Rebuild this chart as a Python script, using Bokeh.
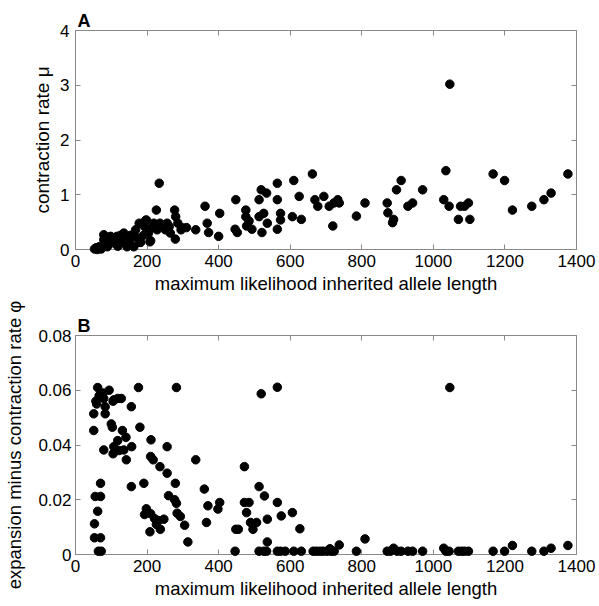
from bokeh.plotting import figure
from bokeh.models import LinearAxis, FixedTicker, Range1d, ColumnDataSource
from bokeh.layouts import column
from bokeh.embed import file_html
from bokeh.resources import INLINE

# ---------------- data ----------------
x_ticks = [0, 200, 400, 600, 800, 1000, 1200, 1400]
yA_ticks = [0, 1, 2, 3, 4]
yB_ticks = [0, 0.02, 0.04, 0.06, 0.08]
yB_tick_labels = {0: "0", 0.02: "0.02", 0.04: "0.04", 0.06: "0.06", 0.08: "0.08"}

xlabel = "maximum likelihood inherited allele length"
ylabelA = "contraction rate \u03bc"
ylabelB = "expansion minus contraction rate \u03c6"

lenA = [53, 61, 72, 66, 89, 79, 79, 98, 98, 107, 116, 126, 135, 135, 144, 154, 163, 168,
        178, 180, 193, 198, 204, 208, 219, 226, 228, 234, 236, 251, 256, 265, 277, 279,
        280, 286, 295, 297, 310, 336, 362, 368, 372, 400, 403, 448, 446, 452, 476, 476,
        485, 478, 493, 513, 519, 534, 513, 526, 521, 536, 564, 564, 573, 573, 564, 610,
        606, 625, 631, 662, 669, 677, 694, 709, 719, 722, 733, 737, 785, 809, 871, 873,
        886, 889, 897, 910, 929, 942, 970, 1035, 1046, 1029, 1044, 1070, 1076, 1087, 1098,
        1102, 1167, 1199, 1221, 1275, 1309, 1329, 1376,
        57, 84, 118, 150, 170, 190, 246, 262, 214, 182, 210, 196, 154, 107, 126]
rateA = [0.01, 0.0, 0.01, 0.05, 0.05, 0.18, 0.27, 0.24, 0.16, 0.12, 0.24, 0.12, 0.30, 0.16,
         0.05, 0.24, 0.05, 0.36, 0.48, 0.13, 0.42, 0.54, 0.30, 0.14, 0.48, 0.72, 0.36, 1.21,
         0.48, 0.36, 0.48, 0.30, 0.72, 0.19, 0.60, 0.48, 0.36, 0.40, 0.40, 0.36, 0.79, 0.48,
         0.31, 0.24, 0.66, 0.91, 0.37, 0.31, 0.72, 0.60, 0.52, 0.43, 0.37, 0.91, 1.09, 1.03,
         0.60, 0.66, 0.31, 0.48, 1.21, 0.91, 0.66, 0.54, 0.37, 1.26, 0.60, 0.97, 0.55, 1.38,
         0.91, 0.79, 0.97, 0.79, 0.43, 0.85, 0.91, 0.85, 0.61, 0.85, 0.85, 0.67, 0.49, 0.55,
         1.09, 1.26, 0.79, 0.85, 1.09, 1.44, 3.02, 0.91, 0.79, 0.55, 0.79, 0.79, 0.85, 0.55,
         1.38, 1.26, 0.72, 0.79, 0.91, 1.03, 1.38,
         0.03, 0.10, 0.06, 0.15, 0.22, 0.26, 0.42, 0.42, 0.40, 0.13, 0.16, 0.53, 0.26, 0.20, 0.26]

lenB = [62, 94, 77, 66, 57, 59, 79, 107, 118, 128, 105, 83, 83, 51, 156, 176, 282, 51, 100,
        103, 131, 141, 180, 118, 79, 107, 105, 122, 135, 157, 142, 211, 256, 210, 217, 236,
        256, 156, 191, 70, 279, 260, 277, 282, 55, 70, 62, 53, 53, 70, 64, 72, 198, 193, 210,
        221, 232, 247, 208, 237, 226, 284, 293, 305, 314, 519, 564, 336, 472, 360, 513, 528,
        370, 403, 398, 472, 485, 478, 564, 575, 536, 606, 489, 506, 496, 366, 448, 455, 536,
        627, 1046, 809, 737, 711, 889, 1029, 1221, 1329, 1376,
        446, 513, 526, 534, 564, 573, 586, 610, 631, 664, 673, 683, 692, 703, 714, 723, 785,
        871, 880, 899, 910, 929, 942, 970, 1035, 1044, 1070, 1079, 1087, 1098, 1167, 1199,
        1275, 1309]
rateB = [0.061, 0.060, 0.059, 0.058, 0.056, 0.055, 0.057, 0.0565, 0.057, 0.057, 0.056,
         0.054, 0.0514, 0.0514, 0.054, 0.061, 0.061, 0.0453, 0.0477, 0.0465, 0.0453, 0.0428,
         0.0465, 0.0416, 0.0382, 0.0394, 0.0368, 0.038, 0.0382, 0.0394, 0.0346, 0.0419,
         0.0394, 0.0358, 0.0346, 0.0321, 0.0297, 0.0248, 0.026, 0.026, 0.026, 0.0215, 0.020,
         0.0187, 0.0212, 0.0212, 0.0158, 0.0112, 0.0061, 0.0061, 0.0012, 0.0012, 0.0167,
         0.0146, 0.0149, 0.0131, 0.0124, 0.0129, 0.0083, 0.0092, 0.011, 0.0151, 0.0139,
         0.0107, 0.0046, 0.0587, 0.0611, 0.0346, 0.0321, 0.0239, 0.0248, 0.0214, 0.0178,
         0.019, 0.0166, 0.019, 0.019, 0.0153, 0.019, 0.0141, 0.0129, 0.0153, 0.0117, 0.0117,
         0.0092, 0.0117, 0.0092, 0.0092, 0.0046, 0.0094, 0.061, 0.0057, 0.0035, 0.0021,
         0.0023, 0.0023, 0.0033, 0.0023, 0.0033,
         0.0012, 0.0012, 0.0012, 0.0012, 0.0012, 0.0012, 0.0012, 0.0012, 0.0012, 0.0012,
         0.0012, 0.0012, 0.0012, 0.0012, 0.0012, 0.0012, 0.0012, 0.0012, 0.0012, 0.0012,
         0.0012, 0.0012, 0.0012, 0.0012, 0.0012, 0.0012, 0.0012, 0.0012, 0.0012, 0.0012,
         0.0012, 0.0012, 0.0012, 0.0012]

FONT = "Liberation Sans"
FRAME = "#8a8a8a"


def style_axis(ax):
    ax.axis_line_color = FRAME
    ax.major_tick_line_color = FRAME
    ax.minor_tick_line_color = None
    ax.major_tick_in = 5
    ax.major_tick_out = 0
    ax.major_label_text_font = FONT
    ax.major_label_text_color = "black"
    ax.axis_label_text_font = FONT
    ax.axis_label_text_font_style = "normal"
    ax.axis_label_text_color = "black"


def make_panel(letter, xs, ys, yr, yticks, ylabel, height, top, bottom,
               ylabel_size, ylabel_standoff, ytick_labels=None):
    p = figure(width=598, height=height, output_backend="svg", toolbar_location=None,
               x_range=Range1d(0, 1400), y_range=Range1d(*yr),
               min_border_left=75, min_border_right=22, min_border_top=top,
               min_border_bottom=bottom)
    p.title.text = letter
    p.title.align = "left"
    p.title.text_font = FONT
    p.title.text_font_style = "bold"
    p.title.text_font_size = "18px"
    p.title.text_color = "black"
    p.title.standoff = 0
    p.title.offset = 2
    p.grid.visible = False
    p.outline_line_color = FRAME
    p.background_fill_color = "white"
    p.border_fill_color = "white"

    src = ColumnDataSource(dict(x=xs, y=ys))
    r = p.scatter("x", "y", source=src, size=8.5, fill_color="black", line_color="black")
    r.level = "overlay"

    xax = p.below[0]
    yax = p.left[0]
    xax.ticker = FixedTicker(ticks=x_ticks)
    yax.ticker = FixedTicker(ticks=yticks)
    style_axis(xax)
    style_axis(yax)
    xax.major_label_text_font_size = "17px"
    yax.major_label_text_font_size = "17px"
    xax.major_label_standoff = 5
    yax.major_label_standoff = 6
    xax.axis_label = xlabel
    xax.axis_label_text_font_size = "18.5px"
    xax.axis_label_standoff = 3
    yax.axis_label = ylabel
    yax.axis_label_text_font_size = ylabel_size
    yax.axis_label_standoff = ylabel_standoff
    if ytick_labels is not None:
        yax.major_label_overrides = ytick_labels
        yax.major_label_standoff = 4

    top_ax = LinearAxis(ticker=FixedTicker(ticks=x_ticks),
                        major_label_overrides={t: "" for t in x_ticks},
                        major_label_standoff=0)
    right_ax = LinearAxis(ticker=FixedTicker(ticks=yticks),
                          major_label_overrides={t: "" for t in yticks},
                          major_label_standoff=0)
    style_axis(top_ax)
    style_axis(right_ax)
    p.add_layout(top_ax, "above")
    p.add_layout(right_ax, "right")
    return p


pA = make_panel("A", lenA, rateA, (0, 4), yA_ticks, ylabelA, 298, 30, 49, "19px", 4)
pB = make_panel("B", lenB, rateB, (0, 0.08), yB_ticks, ylabelB, 308, 37, 52, "18.5px", 10,
                yB_tick_labels)

layout = column(pA, pB, spacing=0)
open("out.html", "w").write(file_html(layout, INLINE))
